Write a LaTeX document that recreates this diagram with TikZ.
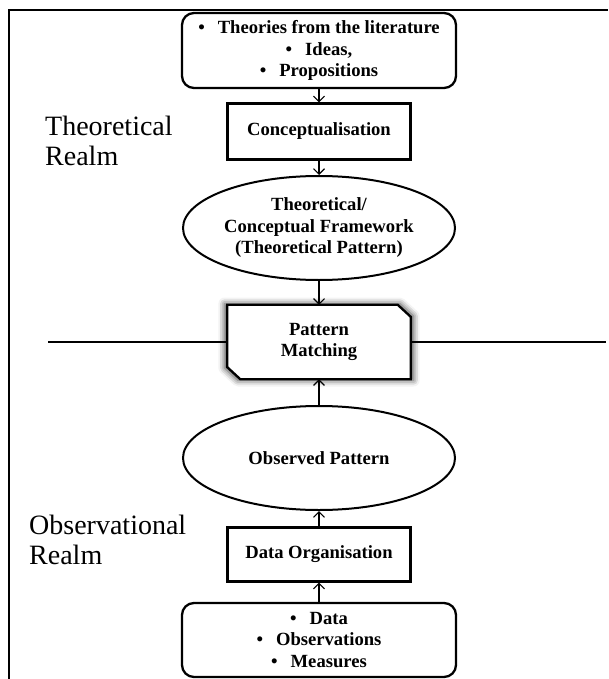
\documentclass[tikz,border=0pt]{standalone}
\usepackage{fontspec}
\setmainfont{Liberation Serif}
\usetikzlibrary{arrows.meta,shapes.geometric,shadows.blur,backgrounds}
\tikzset{
  boxfont/.style={font=\fontsize{18.6}{21.5}\selectfont\bfseries},
  listbox/.style={draw, line width=2.3pt, rounded corners=12pt, minimum width=274pt, minimum height=75pt, align=center, boxfont},
  stepbox/.style={draw, line width=2.3pt, minimum width=183pt, minimum height=56pt, align=center, boxfont},
  framework/.style={draw, ellipse, line width=2pt, minimum width=272pt, minimum height=104pt, inner sep=0pt, align=center, boxfont},
  realm/.style={align=left, inner sep=0pt, font=\fontsize{28}{29.5}\selectfont},
  flow/.style={line width=1.1pt, -{Straight Barb[length=5.5pt,width=11pt]}},
}
\begin{document}
\begin{tikzpicture}[x=1pt, y=-1pt]
  \useasboundingbox (0,0) rectangle (608,679);
  \draw[line width=1.5pt] (9,679) -- (9,10) -- (608,10);

  \node[listbox] (theories) at (319,50.5) {\textbullet\hspace{13pt}Theories from the literature\\ \textbullet\hspace{13pt}Ideas,\\ \textbullet\hspace{13pt}Propositions};
  \node[stepbox, below of=theories, node distance=81pt] (concept) {Conceptualisation};
  \node[framework, below of=concept, node distance=96.5pt] (theory) {Theoretical/\\Conceptual Framework\\(Theoretical Pattern)};
  \node[minimum width=183pt, minimum height=74pt, align=center, boxfont, below of=theory, node distance=114pt] (matching) {Pattern\\Matching};
  \node[framework, below of=matching, node distance=116pt] (observed) {Observed Pattern};
  \node[stepbox, minimum height=54pt, below of=observed, node distance=96.5pt] (dataorg) {Data Organisation};
  \node[listbox, minimum height=74pt, below of=dataorg, node distance=85.5pt] (data) {\textbullet\hspace{13pt}Data\\ \textbullet\hspace{13pt}Observations\\ \textbullet\hspace{13pt}Measures};

  \node[realm, anchor=base west] (theorealm) at (45,165) {Theoretical\\Realm};
  \node[realm, anchor=base west] (obsrealm) at (29,564) {Observational\\Realm};

  % matching box with cut corners and a soft shadow
  \begin{scope}[on background layer]
    \draw[line width=2.3pt, fill=white, blur shadow={shadow xshift=0pt, shadow yshift=0pt, shadow blur radius=6pt, shadow scale=1.03, shadow opacity=75}]
      (matching.north west) -- ([xshift=-13pt]matching.north east) -- ([yshift=-12pt]matching.north east)
      -- (matching.south east) -- ([xshift=13pt]matching.south west) -- ([yshift=12pt]matching.south west) -- cycle;
  \end{scope}

  \coordinate (lineleft) at (48,342);
  \coordinate (lineright) at (606,342);
  \path[line width=1.8pt]
  (lineleft) edge (matching.west)
  (matching.east) edge (lineright);

  \path[flow]
  (theories) edge (concept)
  (concept) edge (theory)
  (theory) edge (matching)
  (observed) edge (matching)
  (dataorg) edge (observed)
  (data) edge (dataorg);
\end{tikzpicture}
\end{document}
